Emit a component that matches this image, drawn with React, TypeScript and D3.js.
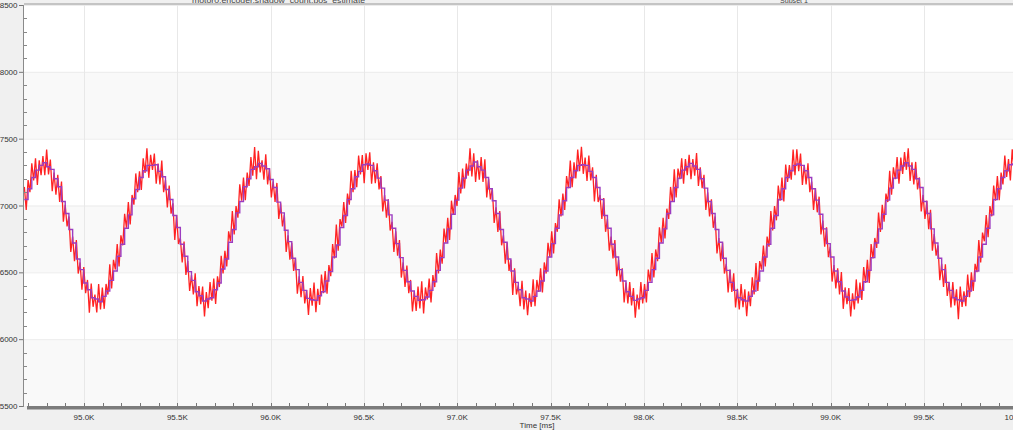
import React from "react";
import * as d3 from "d3";

// sampling grid of the recorded signal (ms)
const T0 = 94680.5;
const DT = 9.948;

// raw position signal (red), one value per sample
const redSignal: number[] = [
  7139,6966,7190,7100,7316,7187,7353,7153,7338,7227,
  7370,7227,7418,7233,7343,7107,7246,7080,7230,7026,7179,6879,7006,6843,6918,6652,6767,6584,6741,6491,
  6574,6370,6540,6344,6443,6197,6417,6242,6333,6200,6413,6222,6387,6227,6413,6334,6560,6380,6594,6521,
  6711,6544,6777,6702,6938,6833,7026,6859,7079,7006,7240,7100,7256,7117,7353,7243,7428,7207,
  7380,7267,7388,7163,7313,7157,7336,7100,7190,6986,7149,6939,7016,6743,6928,6712,6757,6574,6731,6481,
  6584,6360,6480,6334,6493,6247,6397,6262,6393,6170,6353,6232,6427,6287,6453,6264,6470,6390,6624,6491,
  6661,6544,6807,6732,6958,6783,6996,6909,7159,7036,7210,7040,7246,7147,7363,7223,7438,7197,
  7410,7247,7338,7193,7383,7157,7276,7060,7180,7026,7169,6899,7016,6843,6928,6652,6777,6594,6721,6511,
  6604,6340,6470,6314,6473,6267,6367,6182,6383,6250,6423,6202,6377,6257,6483,6344,6510,6340,6554,6471,
  6711,6604,6857,6662,6898,6843,7026,6869,7089,7006,7260,7100,7266,7137,7373,7233,7378,7167,
  7390,7267,7398,7163,7323,7167,7316,7120,7220,6956,7079,6909,7046,6813,6878,6652,6807,6624,6741,6461,
  6574,6390,6550,6344,6443,6207,6357,6212,6393,6230,6433,6192,6387,6297,6453,6274,6480,6390,6644,6491,
  6671,6564,6827,6722,6908,6743,7036,6929,7079,6996,7250,7090,7276,7127,7313,7223,7428,7217,
  7390,7177,7338,7193,7363,7177,7346,7060,7200,7046,7129,6869,6986,6803,6958,6702,6777,6564,6721,6511,
  6594,6330,6530,6334,6403,6247,6437,6222,6363,6180,6343,6242,6447,6247,6443,6354,6530,6350,6574,6491,
  6721,6614,6807,6642,6868,6803,7046,6919,7089,6966,7220,7130,7336,7137,7323,7203,7418,7257,
  7440,7237,7358,7183,7373,7187,7286,7030,7230,7026,7079,6899,7056,6803,6898,6662,6767,6604,6741,6471,
  6594,6430,6530,6274,6423,6267,6427,6252,6383,6160,6333,6222,6427,6267,6413,6274,6520,6430,6644,6461,
  6671,6584,6837,6722,6908,6753,6976,6899,7139,7026,7270,7060,7276,7197,7353,7163,7348,7227,
  7380,7197,7348,7223,7393,7147,7286,7130,7230,6966,7099,6919,7046,6833,6918,6642,6757,6584,6721,6491,
  6564,6350,6520,6354,6493,6237,6377,6222,6413,6240,6373,6172,6357,6247,6463,6334,6570,6360,6584,6521,
  6701,6544,6767,6692,6958,6813,6996,6889,7149,7036,7210,7030,7306,7177,7303,7193,7418,7227,
  7420,7257,7388,7153,7303,7157,7316,7100,7180,6966,7129,6949,7066,6783,6888,6692,6837,6614,6691,6431,
  6554,6380,6530,6334,6503,6227,6387,6262,6383,6170,6343,6222,6447,6267,6423,6294,6540,6420,6594,6421,
  6711,6604,6757,6682,6948,6803,7006,6879,7089,7026,7260,7080,7286,7197,7363,7163,7358,7237,
  7400,7267,7428,7183,7323,7157,7326,7120,7210,6956,7079,6899,7036,6823,6968,6662,6787,6624,6701,6441,
  6564,6390,6560,6324,6423,6237,6427,6252,6373,6150,6393,6242,6357,6247,6483,6314,6500,6360,6564,6501,
  6741,6574,6797,6732,6928,6763,6996,6919,7149,7036,7220,7040,7246,7157,7373,7213,7348,7187,
  7420,7257,7378,
];

// estimate (purple), one value every second sample
const estimate: number[] = [
  7045,7125,7210,7265,7300,
  7320,7290,7270,7200,7140,7030,6940,6820,6720,6600,6520,6420,6370,6310,6300,6280,6320,6360,6440,6510,6620,6710,6830,6930,7050,7120,7210,7260,7300,
  7300,7305,7255,7215,7120,7045,6925,6835,6710,6620,6505,6440,6355,6325,6285,6300,6310,6370,6420,6525,6600,6725,6820,6945,7030,7140,7200,7270,7290,
  7315,7295,7275,7195,7135,7025,6945,6815,6730,6605,6520,6425,6365,6305,6295,6290,6325,6355,6435,6505,6615,6705,6835,6925,7045,7125,7215,7255,7305,
  7310,7300,7260,7205,7130,7040,6930,6830,6715,6610,6515,6430,6360,6320,6290,6295,6315,6365,6430,6515,6610,6720,6825,6935,7040,7130,7205,7265,7295,
  7325,7290,7265,7210,7125,7035,6940,6820,6725,6600,6510,6425,6370,6310,6300,6285,6320,6360,6435,6510,6615,6715,6830,6930,7035,7135,7210,7260,7300,
  7305,7300,7255,7210,7135,7045,6925,6830,6710,6615,6520,6435,6355,6320,6290,6300,6310,6365,6425,6520,6605,6720,6825,6940,7030,7135,7205,7265,7290,
  7315,7295,7270,7200,7130,7030,6940,6820,6725,6605,6515,6425,6365,6310,6295,6285,6320,6360,6435,6510,6615,6710,6830,6925,7045,7125,7210,7260,7300,
  7310,7300,7260,7210,7125,7040,6935,6825,6715,6615,6510,6430,6360,6315,6290,6295,6315,6365,6430,6515,6610,6720,6825,6935,7040,7130,7205,7265,7295,
  7320,7295,7270,7200,7135,7030,6940,6825,6720,6605,6520,6425,6365,6310,6295,6285,6320,6360,6435,6510,6615,6710,6830,6930,7045,7125,7210,7260,7305,
  7310,7300,
];

const yTicks = [5500, 6000, 6500, 7000, 7500, 8000, 8500];
const shadedBands = [5500, 6500, 7500];
const xTicks = [95000, 95500, 96000, 96500, 97000, 97500, 98000, 98500, 99000, 99500, 100000];
const xTickLabels = ["95.0K", "95.5K", "96.0K", "96.5K", "97.0K", "97.5K", "98.0K", "98.5K", "99.0K", "99.5K", "100.0K"];
const xTitle = "Time [ms]";
const topTextLeft = "motor0.encoder.shadow_count.pos_estimate_";
const topTextRight = "Subset 1";

export default function App() {
  const W = 1013;
  const H = 430;
  const left = 24;
  const top = 5;
  const bottom = 406;
  const font = "'Liberation Sans', Arial, sans-serif";

  const x = d3.scaleLinear().domain([95000, 100000]).range([84, 1017.3]);
  const y = d3.scaleLinear().domain([5500, 8500]).range([bottom, top]);

  const redLine = d3
    .line<number>()
    .x((_, i) => x(T0 + i * DT))
    .y((d) => y(d));
  const estLine = d3
    .line<number>()
    .x((_, i) => x(T0 + 2 * i * DT))
    .y((d) => y(d))
    .curve(d3.curveStepAfter);

  const minorX = d3.range(94700, 100001, 100);
  const minorY = d3.range(5600, 8500, 100).filter((v) => v % 500 !== 0);

  return (
    <div style={{ position: "absolute", left: 0, top: 0 }}>
      <svg width={W} height={H} style={{ display: "block", fontFamily: font }}>
        <defs>
          <clipPath id="plotClip">
            <rect x={left} y={top} width={W - left} height={bottom - top} />
          </clipPath>
        </defs>
        <rect x={0} y={0} width={W} height={H} fill="#f0f0f0" />
        {/* top caption, cut by the frame as in the source */}
        <text x={192} y={2.5} fontSize={8} fill="#444" textLength={178} lengthAdjust="spacingAndGlyphs">{topTextLeft}</text>
        <text x={780} y={2.5} fontSize={8} fill="#444" textLength={28} lengthAdjust="spacingAndGlyphs">{topTextRight}</text>
        <rect x={left} y={3} width={W - left} height={2} fill="#c4c4c4" />
        {/* plot background */}
        <rect x={left} y={top} width={W - left} height={bottom - top} fill="#ffffff" />
        {shadedBands.map((v) => (
          <rect key={v} x={left} y={y(v + 500)} width={W - left} height={y(v) - y(v + 500)} fill="#f9f9f9" />
        ))}
        {yTicks.map((v) => (
          <line key={"gy" + v} x1={left} x2={W} y1={y(v) + 0.5} y2={y(v) + 0.5} stroke="#ececec" />
        ))}
        {xTicks.map((v) => (
          <line key={"gx" + v} x1={Math.round(x(v)) + 0.5} x2={Math.round(x(v)) + 0.5} y1={top} y2={bottom} stroke="#e8e8e8" />
        ))}
        {/* signals */}
        <g clipPath="url(#plotClip)">
          <path d={redLine(redSignal) || ""} fill="none" stroke="#ff0a0a" strokeWidth={1.3} strokeOpacity={0.9} />
          <path d={estLine(estimate) || ""} fill="none" stroke="#9c3cc0" strokeWidth={1.4} />
        </g>
        {/* y axis */}
        <line x1={23.5} x2={23.5} y1={top} y2={bottom + 1} stroke="#8a8a8a" />
        {yTicks.map((v) => (
          <g key={"yt" + v}>
            <line x1={19} x2={23} y1={y(v) + 0.5} y2={y(v) + 0.5} stroke="#777" />
            <text x={17.5} y={y(v) + 0.5} fontSize={8} fill="#333" textAnchor="end" dominantBaseline="central">
              {v}
            </text>
          </g>
        ))}
        {minorY.map((v) => (
          <line key={"my" + v} x1={24} x2={27} y1={Math.round(y(v)) + 0.5} y2={Math.round(y(v)) + 0.5} stroke="#888" />
        ))}
        {/* x axis */}
        <rect x={27} y={406} width={W - 27} height={3.5} fill="#7c7c7c" />
        {minorX.map((v) => (
          <line key={"mx" + v} x1={Math.round(x(v)) + 0.5} x2={Math.round(x(v)) + 0.5} y1={403} y2={406} stroke="#777" />
        ))}
        {xTicks.map((v, i) => (
          <text key={"xl" + v} x={x(v)} y={417} fontSize={8} fill="#333" textAnchor="middle" dominantBaseline="central">
            {xTickLabels[i]}
          </text>
        ))}
        <text x={537} y={425.5} fontSize={8} fill="#333" textAnchor="middle" dominantBaseline="central">
          {xTitle}
        </text>
      </svg>
    </div>
  );
}
